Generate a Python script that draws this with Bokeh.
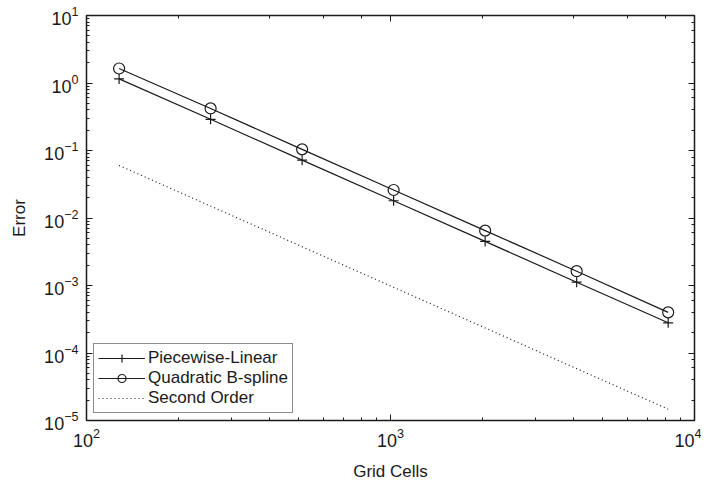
from bokeh.plotting import figure
from bokeh.models import LogAxis, Range1d, Legend, CustomJSTickFormatter
from bokeh.embed import file_html
from bokeh.resources import INLINE

grid_cells = [128, 256, 512, 1024, 2048, 4096, 8192]
piecewise_linear = [1.15, 0.29, 0.072, 0.018, 0.0045, 0.00112, 0.00028]
quadratic_bspline = [1.64, 0.42, 0.104, 0.026, 0.0065, 0.00163, 0.00040]
second_order_x = [128, 8192]
second_order = [0.06, 1.47e-5]

FONT = "Liberation Sans"
INK = "#1a1a1a"

p = figure(
    x_axis_type="log", y_axis_type="log",
    x_range=Range1d(1e2, 1e4), y_range=Range1d(1e-5, 1e1),
    frame_width=608, frame_height=405,
    min_border_left=86, min_border_top=15, min_border_right=7, min_border_bottom=54,
    output_backend="svg", toolbar_location=None,
)
p.background_fill_color = "white"
p.border_fill_color = "white"
p.outline_line_color = INK
p.outline_line_width = 1.5
p.grid.visible = False

for ax in [p.xaxis[0], p.yaxis[0]]:
    ax.axis_line_color = INK
    ax.major_tick_in = 6
    ax.major_tick_out = 0
    ax.minor_tick_in = 3
    ax.minor_tick_out = 0
    ax.major_tick_line_color = INK
    ax.minor_tick_line_color = INK
    ax.major_label_text_font = FONT
    ax.major_label_text_font_size = "18px"
    ax.major_label_text_color = INK
    ax.axis_label_text_font = FONT
    ax.axis_label_text_font_size = "17px"
    ax.axis_label_text_font_style = "normal"
    ax.axis_label_text_color = INK

p.xaxis.axis_label = "Grid Cells"
p.yaxis.axis_label = "Error"
p.xaxis.major_label_standoff = 7
p.yaxis.major_label_standoff = 8
p.xaxis.axis_label_standoff = 12
p.yaxis.axis_label_standoff = 12

for loc in ["above", "right"]:
    ax = LogAxis()
    ax.major_tick_in = 6
    ax.major_tick_out = 0
    ax.minor_tick_in = 3
    ax.minor_tick_out = 0
    ax.major_tick_line_color = INK
    ax.minor_tick_line_color = INK
    ax.axis_line_color = INK
    ax.formatter = CustomJSTickFormatter(code="return ''")
    ax.major_label_text_font_size = "1px"
    ax.major_label_standoff = 0
    p.add_layout(ax, loc)

l1 = p.line(grid_cells, piecewise_linear, line_color=INK, line_width=1.2)
m1 = p.scatter(grid_cells, piecewise_linear, marker="cross", size=10, line_color=INK, line_width=1.2)
l2 = p.line(grid_cells, quadratic_bspline, line_color=INK, line_width=1.2)
m2 = p.scatter(grid_cells, quadratic_bspline, marker="circle", size=11, line_color=INK, fill_color=None, line_width=1.2)
l3 = p.line(second_order_x, second_order, line_color=INK, line_width=1.2, line_dash="1 3")

legend = Legend(items=[
    ("Piecewise-Linear", [l1, m1]),
    ("Quadratic B-spline", [l2, m2]),
    ("Second Order", [l3]),
], location=(7, 7))
legend.border_line_color = INK
legend.border_line_width = 1.5
legend.label_text_font = FONT
legend.label_text_font_size = "17px"
legend.label_text_color = INK
legend.glyph_width = 47
legend.glyph_height = 20
legend.label_height = 20
legend.spacing = 0
legend.padding = 4
legend.margin = 0
legend.label_standoff = 3
legend.background_fill_color = "white"
legend.background_fill_alpha = 1
p.add_layout(legend, "center")

open("out.html", "w").write(file_html(p, INLINE))
